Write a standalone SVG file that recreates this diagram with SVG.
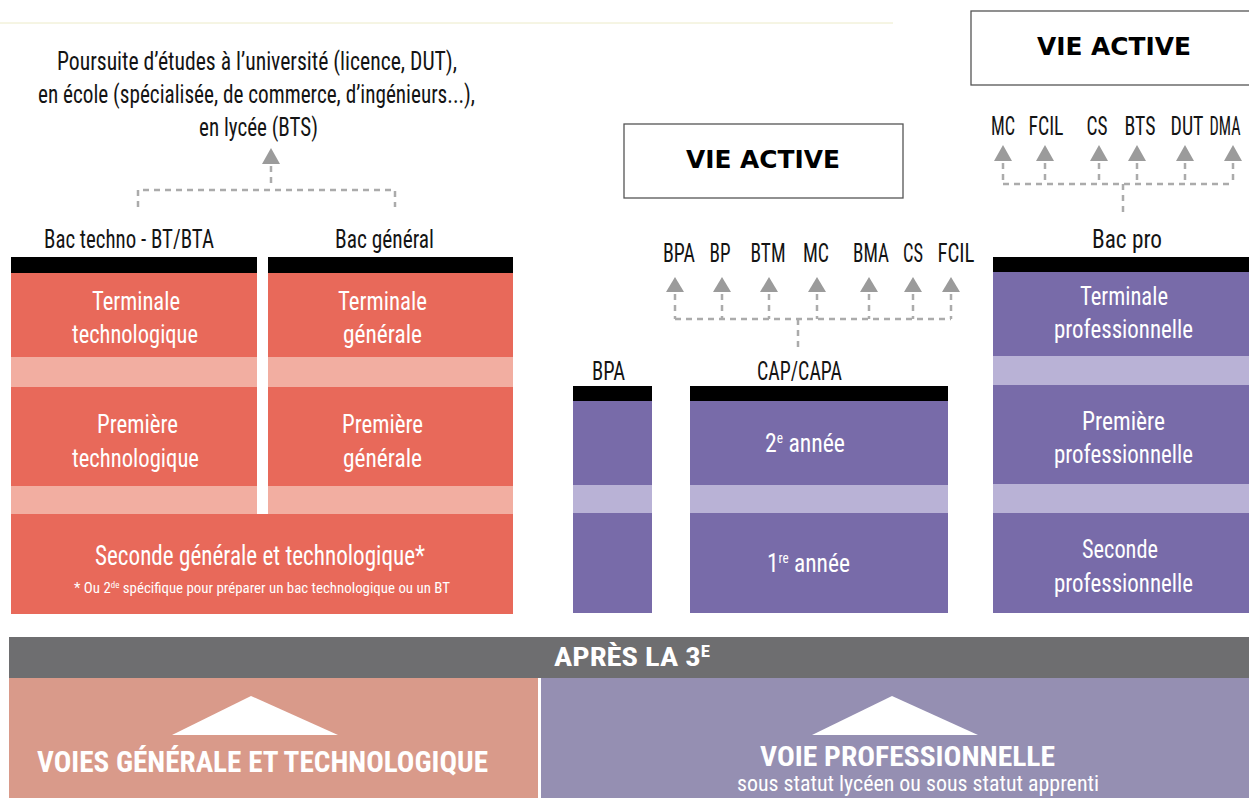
<svg xmlns="http://www.w3.org/2000/svg" width="1249" height="798" viewBox="0 0 1249 798">
<defs>
<style>
.c{font-family:"Liberation Sans Narrow","Roboto Condensed","DejaVu Sans Condensed","Liberation Sans",sans-serif;font-stretch:condensed;font-size:25px;fill:#141414}
.l{font-size:26px}
.w{fill:#ffffff}
.wb{fill:#ffffff;font-weight:bold}
.va{font-family:"DejaVu Sans","Liberation Sans",sans-serif;font-weight:bold;font-size:24px;fill:#000}
.red{fill:#E8695A}
.lred{fill:#F2AEA1}
.pur{fill:#786BA9}
.lpur{fill:#B9B2D6}
.blk{fill:#000}
.tri{fill:#9B9B9B}
.dash{fill:none;stroke:#ABABAB;stroke-width:2.5;stroke-dasharray:6 5}
.box{fill:#fff;stroke:#555;stroke-width:1.3}
</style>
</defs>
<rect width="1249" height="798" fill="#ffffff"/>
<line x1="0" y1="23" x2="893" y2="23" stroke="#ECEBC8" stroke-width="1"/>

<g id="poursuite">
<text class="c" x="57" y="70" textLength="400" lengthAdjust="spacingAndGlyphs">Poursuite d’études à l’université (licence, DUT),</text>
<text class="c" x="38" y="103" textLength="437" lengthAdjust="spacingAndGlyphs">en école (spécialisée, de commerce, d’ingénieurs...),</text>
<text class="c" x="199" y="136" textLength="119" lengthAdjust="spacingAndGlyphs">en lycée (BTS)</text>
</g>

<g id="vie-active-1">
<rect class="box" x="624" y="124" width="279" height="74"/>
<text class="va" x="686" y="168" textLength="154" lengthAdjust="spacingAndGlyphs">VIE ACTIVE</text>
</g>

<g id="vie-active-2">
<rect class="box" x="971" y="11" width="290" height="74"/>
<text class="va" x="1037" y="55" textLength="154" lengthAdjust="spacingAndGlyphs">VIE ACTIVE</text>
</g>

<g id="diplomes-cap">
<text class="c l" x="679" y="262" text-anchor="middle" textLength="32" lengthAdjust="spacingAndGlyphs">BPA</text>
<text class="c l" x="720" y="262" text-anchor="middle" textLength="21" lengthAdjust="spacingAndGlyphs">BP</text>
<text class="c l" x="768" y="262" text-anchor="middle" textLength="35" lengthAdjust="spacingAndGlyphs">BTM</text>
<text class="c l" x="816" y="262" text-anchor="middle" textLength="26" lengthAdjust="spacingAndGlyphs">MC</text>
<text class="c l" x="871" y="262" text-anchor="middle" textLength="36" lengthAdjust="spacingAndGlyphs">BMA</text>
<text class="c l" x="913" y="262" text-anchor="middle" textLength="20" lengthAdjust="spacingAndGlyphs">CS</text>
<text class="c l" x="956" y="262" text-anchor="middle" textLength="37" lengthAdjust="spacingAndGlyphs">FCIL</text>
</g>

<g id="diplomes-bacpro">
<text class="c l" x="1003" y="135" text-anchor="middle" textLength="24" lengthAdjust="spacingAndGlyphs">MC</text>
<text class="c l" x="1046" y="135" text-anchor="middle" textLength="35" lengthAdjust="spacingAndGlyphs">FCIL</text>
<text class="c l" x="1097" y="135" text-anchor="middle" textLength="21" lengthAdjust="spacingAndGlyphs">CS</text>
<text class="c l" x="1140" y="135" text-anchor="middle" textLength="31" lengthAdjust="spacingAndGlyphs">BTS</text>
<text class="c l" x="1187" y="135" text-anchor="middle" textLength="33" lengthAdjust="spacingAndGlyphs">DUT</text>
<text class="c l" x="1225" y="135" text-anchor="middle" textLength="31" lengthAdjust="spacingAndGlyphs">DMA</text>
</g>

<g id="bac-techno">
<text class="c" x="44" y="248" textLength="170" lengthAdjust="spacingAndGlyphs">Bac techno - BT/BTA</text>
<rect class="blk" x="11" y="257" width="246" height="16"/>
<rect class="red" x="11" y="273" width="246" height="84"/>
<rect class="lred" x="11" y="357" width="246" height="30"/>
<rect class="red" x="11" y="387" width="246" height="99"/>
<rect class="lred" x="11" y="486" width="246" height="28"/>
<text class="c w" x="92" y="310" textLength="88" lengthAdjust="spacingAndGlyphs">Terminale</text>
<text class="c w" x="72" y="343" textLength="126" lengthAdjust="spacingAndGlyphs">technologique</text>
<text class="c w" x="97" y="433" textLength="81" lengthAdjust="spacingAndGlyphs">Première</text>
<text class="c w" x="72" y="467" textLength="127" lengthAdjust="spacingAndGlyphs">technologique</text>
</g>

<g id="bac-general">
<text class="c" x="335" y="248" textLength="99" lengthAdjust="spacingAndGlyphs">Bac général</text>
<rect class="blk" x="268" y="257" width="245" height="16"/>
<rect class="red" x="268" y="273" width="245" height="84"/>
<rect class="lred" x="268" y="357" width="245" height="30"/>
<rect class="red" x="268" y="387" width="245" height="99"/>
<rect class="lred" x="268" y="486" width="245" height="28"/>
<text class="c w" x="338" y="310" textLength="89" lengthAdjust="spacingAndGlyphs">Terminale</text>
<text class="c w" x="343" y="343" textLength="79" lengthAdjust="spacingAndGlyphs">générale</text>
<text class="c w" x="342" y="433" textLength="81" lengthAdjust="spacingAndGlyphs">Première</text>
<text class="c w" x="343" y="467" textLength="79" lengthAdjust="spacingAndGlyphs">générale</text>
</g>

<g id="seconde-gt">
<rect class="red" x="11" y="514" width="502" height="100"/>
<text class="c w" x="95" y="565" style="font-size:27px" textLength="330" lengthAdjust="spacingAndGlyphs">Seconde générale et technologique*</text>
<text class="c w" x="74" y="593" style="font-size:15px" textLength="376" lengthAdjust="spacingAndGlyphs">* Ou 2<tspan style="font-size:9px" dy="-5">de</tspan><tspan dy="5"> spécifique pour préparer un bac technologique ou un BT</tspan></text>
</g>

<g id="bpa">
<text class="c" x="592" y="380" textLength="33" lengthAdjust="spacingAndGlyphs">BPA</text>
<rect class="blk" x="573" y="386" width="79" height="15"/>
<rect class="pur" x="573" y="401" width="79" height="84"/>
<rect class="lpur" x="573" y="485" width="79" height="28"/>
<rect class="pur" x="573" y="513" width="79" height="100"/>
</g>

<g id="cap-capa">
<text class="c" x="757" y="380" textLength="85" lengthAdjust="spacingAndGlyphs">CAP/CAPA</text>
<rect class="blk" x="690" y="386" width="258" height="15"/>
<rect class="pur" x="690" y="401" width="258" height="84"/>
<rect class="lpur" x="690" y="485" width="258" height="28"/>
<rect class="pur" x="690" y="513" width="258" height="100"/>
<text class="c w" x="765" y="452" textLength="80" lengthAdjust="spacingAndGlyphs">2<tspan style="font-size:14px" dy="-9">e</tspan><tspan dy="9"> année</tspan></text>
<text class="c w" x="767" y="572" textLength="83" lengthAdjust="spacingAndGlyphs">1<tspan style="font-size:14px" dy="-9">re</tspan><tspan dy="9"> année</tspan></text>
</g>

<g id="bac-pro">
<text class="c" x="1092" y="248" textLength="70" lengthAdjust="spacingAndGlyphs">Bac pro</text>
<rect class="blk" x="993" y="257" width="256" height="15"/>
<rect class="pur" x="993" y="272" width="256" height="84"/>
<rect class="lpur" x="993" y="356" width="256" height="29"/>
<rect class="pur" x="993" y="385" width="256" height="99"/>
<rect class="lpur" x="993" y="484" width="256" height="29"/>
<rect class="pur" x="993" y="513" width="256" height="100"/>
<text class="c w" x="1080" y="305" textLength="88" lengthAdjust="spacingAndGlyphs">Terminale</text>
<text class="c w" x="1054" y="338" textLength="139" lengthAdjust="spacingAndGlyphs">professionnelle</text>
<text class="c w" x="1082" y="430" textLength="83" lengthAdjust="spacingAndGlyphs">Première</text>
<text class="c w" x="1054" y="463" textLength="139" lengthAdjust="spacingAndGlyphs">professionnelle</text>
<text class="c w" x="1082" y="558" textLength="76" lengthAdjust="spacingAndGlyphs">Seconde</text>
<text class="c w" x="1054" y="592" textLength="139" lengthAdjust="spacingAndGlyphs">professionnelle</text>
</g>

<g id="apres-la-3e">
<rect x="9" y="637" width="1240" height="41" fill="#6E6E70"/>
<text class="c wb" x="554" y="666" style="font-size:26px" textLength="156" lengthAdjust="spacingAndGlyphs">APRÈS LA 3<tspan style="font-size:16px" dy="-9">E</tspan></text>
</g>

<g id="voies-gt">
<rect x="9" y="678" width="529" height="120" fill="#D99A8A"/>
<polygon points="172,735 251,696 338,735" fill="#ffffff"/>
<text class="c wb" x="37" y="772" style="font-size:29px" textLength="451" lengthAdjust="spacingAndGlyphs">VOIES GÉNÉRALE ET TECHNOLOGIQUE</text>
</g>

<g id="voie-pro">
<rect x="541" y="678" width="708" height="120" fill="#958FB2"/>
<polygon points="812,735 892,696 978,735" fill="#ffffff"/>
<text class="c wb" x="760" y="766" style="font-size:28px" textLength="295" lengthAdjust="spacingAndGlyphs">VOIE PROFESSIONNELLE</text>
<text class="c w" x="737" y="791" style="font-size:22px" textLength="362" lengthAdjust="spacingAndGlyphs">sous statut lycéen ou sous statut apprenti</text>
</g>

<g id="connectors">
<polygon class="tri" points="262,164 271,148 280,164"/>
<path class="dash" d="M271,166 V186 M138,207 V190 H395 V207"/>
<polygon class="tri" points="666,292 675,277 684,292"/>
<polygon class="tri" points="713,292 722,277 731,292"/>
<polygon class="tri" points="760,292 769,277 778,292"/>
<polygon class="tri" points="808,292 817,277 826,292"/>
<polygon class="tri" points="860,292 869,277 878,292"/>
<polygon class="tri" points="904,292 913,277 922,292"/>
<polygon class="tri" points="942,292 951,277 960,292"/>
<path class="dash" d="M675,294 V319 M722,294 V319 M769,294 V319 M817,294 V319 M869,294 V319 M913,294 V319 M951,294 V319 M675,319 H951 M798,319 V347"/>
<polygon class="tri" points="994,161 1003,145 1012,161"/>
<polygon class="tri" points="1036,161 1045,145 1054,161"/>
<polygon class="tri" points="1090,161 1099,145 1108,161"/>
<polygon class="tri" points="1128,161 1137,145 1146,161"/>
<polygon class="tri" points="1176,161 1185,145 1194,161"/>
<polygon class="tri" points="1224,161 1233,145 1242,161"/>
<path class="dash" d="M1003,163 V184 M1045,163 V184 M1099,163 V184 M1137,163 V184 M1185,163 V184 M1233,163 V184 M1003,184 H1233 M1123,184 V213"/>
</g>
</svg>
